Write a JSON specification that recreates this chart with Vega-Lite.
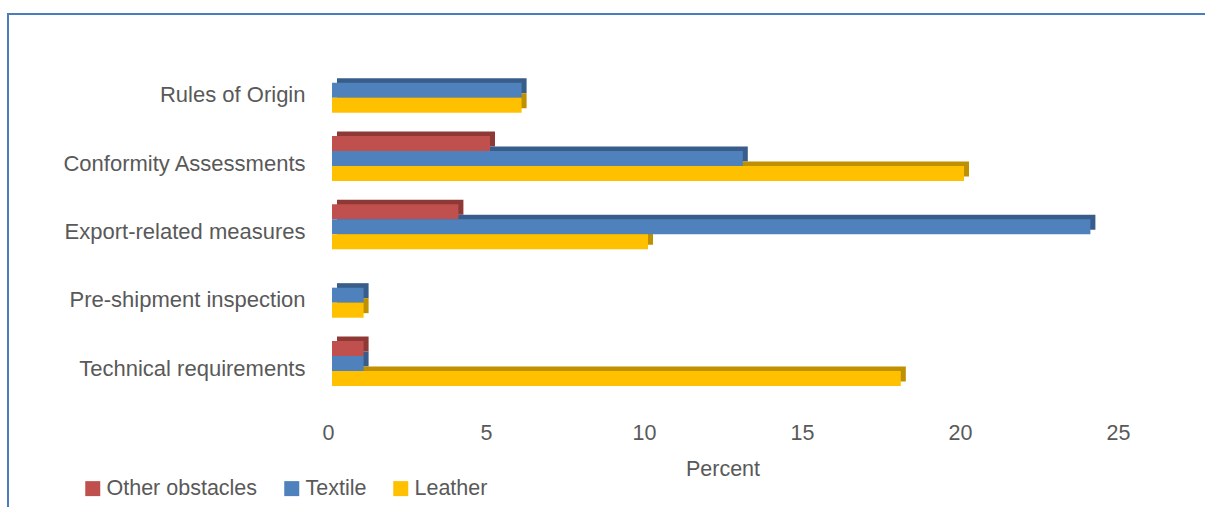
{
  "$schema": "https://vega.github.io/schema/vega-lite/v6.json",
  "autosize": "none",
  "padding": {"left": 8, "top": 14, "right": -20, "bottom": -20},
  "width": 1217,
  "height": 513,
  "background": "white",
  "config": {
    "view": {"stroke": "#4A7EBB", "strokeWidth": 2},
    "font": "Liberation Sans"
  },
  "data": {
    "values": [
      {"measure": "Rules of Origin", "series": "Textile", "value": 6},
      {"measure": "Rules of Origin", "series": "Leather", "value": 6},
      {"measure": "Conformity Assessments", "series": "Other obstacles", "value": 5},
      {"measure": "Conformity Assessments", "series": "Textile", "value": 13},
      {"measure": "Conformity Assessments", "series": "Leather", "value": 20},
      {"measure": "Export-related measures", "series": "Other obstacles", "value": 4},
      {"measure": "Export-related measures", "series": "Textile", "value": 24},
      {"measure": "Export-related measures", "series": "Leather", "value": 10},
      {"measure": "Pre-shipment inspection", "series": "Textile", "value": 1},
      {"measure": "Pre-shipment inspection", "series": "Leather", "value": 1},
      {"measure": "Technical requirements", "series": "Other obstacles", "value": 1},
      {"measure": "Technical requirements", "series": "Textile", "value": 1},
      {"measure": "Technical requirements", "series": "Leather", "value": 18}
    ]
  },
  "encoding": {
    "y": {
      "field": "measure",
      "type": "nominal",
      "sort": ["Rules of Origin", "Conformity Assessments", "Export-related measures", "Pre-shipment inspection", "Technical requirements"],
      "scale": {"range": [42, 383.7], "paddingInner": 0.341, "paddingOuter": 0.1705},
      "axis": {
        "title": null,
        "domain": false,
        "ticks": false,
        "labelPadding": 0,
        "offset": -297,
        "labelOffset": 5,
        "labelFontSize": 22,
        "labelColor": "#595959",
        "labelLimit": 400
      }
    },
    "x": {
      "field": "value",
      "type": "quantitative",
      "scale": {"domain": [0, 25], "range": [324, 1114], "nice": false},
      "axis": {
        "values": [0, 5, 10, 15, 20, 25],
        "domain": false,
        "ticks": false,
        "grid": false,
        "offset": -104.3,
        "labelPadding": 0,
        "labelOffset": -4,
        "labelFlush": false,
        "labelFontSize": 21.5,
        "labelColor": "#595959",
        "title": "Percent",
        "titleFontSize": 21.5,
        "titleColor": "#595959",
        "titleFontWeight": "normal",
        "titlePadding": 14,
        "titleX": 714.5
      }
    }
  },
  "layer": [
    {
      "mark": {"type": "bar", "xOffset": 5},
      "encoding": {
        "yOffset": {
          "field": "series",
          "type": "nominal",
          "scale": {"domain": ["Other obstacles", "Textile", "Leather"], "range": [-4.5, 40.5], "paddingInner": 0, "paddingOuter": 0}
        },
        "color": {
          "field": "series",
          "type": "nominal",
          "scale": {"domain": ["Other obstacles", "Textile", "Leather"], "range": ["#8E3936", "#385D8A", "#BF9000"]},
          "legend": null
        }
      }
    },
    {
      "mark": {"type": "bar"},
      "encoding": {
        "yOffset": {
          "field": "series",
          "type": "nominal",
          "scale": {"domain": ["Other obstacles", "Textile", "Leather"], "paddingInner": 0, "paddingOuter": 0}
        },
        "color": {
          "field": "series",
          "type": "nominal",
          "scale": {"domain": ["Other obstacles", "Textile", "Leather"], "range": ["#C0504D", "#4F81BD", "#FFC000"]},
          "legend": {
            "orient": "none",
            "legendX": 74,
            "legendY": 463.5,
            "direction": "horizontal",
            "title": null,
            "symbolType": "square",
            "symbolSize": 225,
            "symbolStrokeWidth": 0,
            "labelFontSize": 21.5,
            "labelColor": "#595959",
            "labelOffset": 3,
            "columnPadding": 23,
            "padding": 0,
            "labelLimit": 300
          }
        }
      }
    }
  ],
  "resolve": {"scale": {"color": "independent", "yOffset": "independent"}}
}
